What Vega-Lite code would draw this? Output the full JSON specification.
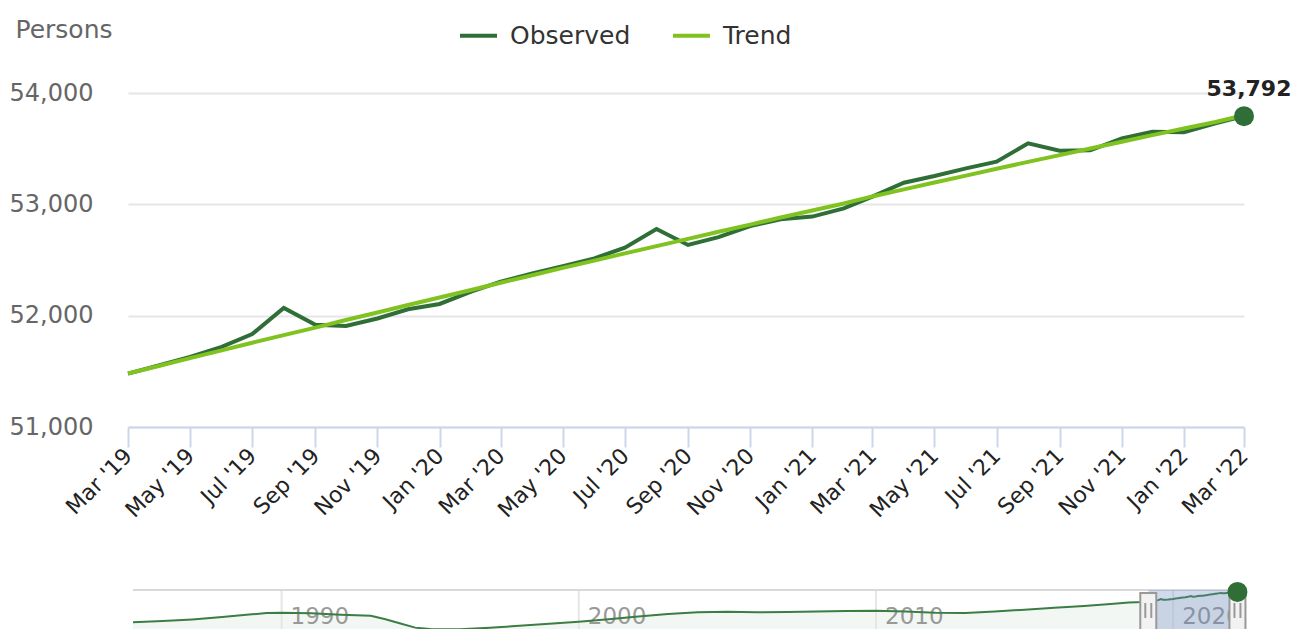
{
  "$schema": "https://vega.github.io/schema/vega-lite/v6.json",
  "width": 1116,
  "height": 334,
  "autosize": {"type": "none"},
  "padding": {"left": 128, "top": 93, "right": 52, "bottom": 202},
  "background": "white",
  "config": {"font": "DejaVu Sans", "view": {"stroke": null}},
  "datasets": {
    "obs": [
      {"date": "2019-03-01", "series": "Observed", "value": 51480},
      {"date": "2019-04-01", "series": "Observed", "value": 51555},
      {"date": "2019-05-01", "series": "Observed", "value": 51630},
      {"date": "2019-06-01", "series": "Observed", "value": 51720},
      {"date": "2019-07-01", "series": "Observed", "value": 51835},
      {"date": "2019-08-01", "series": "Observed", "value": 52070},
      {"date": "2019-09-01", "series": "Observed", "value": 51918},
      {"date": "2019-10-01", "series": "Observed", "value": 51908},
      {"date": "2019-11-01", "series": "Observed", "value": 51975},
      {"date": "2019-12-01", "series": "Observed", "value": 52057},
      {"date": "2020-01-01", "series": "Observed", "value": 52105},
      {"date": "2020-02-01", "series": "Observed", "value": 52215},
      {"date": "2020-03-01", "series": "Observed", "value": 52305},
      {"date": "2020-04-01", "series": "Observed", "value": 52380},
      {"date": "2020-05-01", "series": "Observed", "value": 52445},
      {"date": "2020-06-01", "series": "Observed", "value": 52515},
      {"date": "2020-07-01", "series": "Observed", "value": 52610},
      {"date": "2020-08-01", "series": "Observed", "value": 52778},
      {"date": "2020-09-01", "series": "Observed", "value": 52635},
      {"date": "2020-10-01", "series": "Observed", "value": 52705},
      {"date": "2020-11-01", "series": "Observed", "value": 52805},
      {"date": "2020-12-01", "series": "Observed", "value": 52866},
      {"date": "2021-01-01", "series": "Observed", "value": 52890},
      {"date": "2021-02-01", "series": "Observed", "value": 52964},
      {"date": "2021-03-01", "series": "Observed", "value": 53069},
      {"date": "2021-04-01", "series": "Observed", "value": 53194},
      {"date": "2021-05-01", "series": "Observed", "value": 53254},
      {"date": "2021-06-01", "series": "Observed", "value": 53323},
      {"date": "2021-07-01", "series": "Observed", "value": 53383},
      {"date": "2021-08-01", "series": "Observed", "value": 53548},
      {"date": "2021-09-01", "series": "Observed", "value": 53482},
      {"date": "2021-10-01", "series": "Observed", "value": 53485},
      {"date": "2021-11-01", "series": "Observed", "value": 53593},
      {"date": "2021-12-01", "series": "Observed", "value": 53653},
      {"date": "2022-01-01", "series": "Observed", "value": 53647},
      {"date": "2022-02-01", "series": "Observed", "value": 53728},
      {"date": "2022-03-01", "series": "Observed", "value": 53792},
      {"date": "2019-03-01", "series": "Trend", "value": 51480},
      {"date": "2019-04-01", "series": "Trend", "value": 51550},
      {"date": "2019-05-01", "series": "Trend", "value": 51619},
      {"date": "2019-06-01", "series": "Trend", "value": 51688},
      {"date": "2019-07-01", "series": "Trend", "value": 51757},
      {"date": "2019-08-01", "series": "Trend", "value": 51825},
      {"date": "2019-09-01", "series": "Trend", "value": 51893},
      {"date": "2019-10-01", "series": "Trend", "value": 51961},
      {"date": "2019-11-01", "series": "Trend", "value": 52029},
      {"date": "2019-12-01", "series": "Trend", "value": 52096},
      {"date": "2020-01-01", "series": "Trend", "value": 52163},
      {"date": "2020-02-01", "series": "Trend", "value": 52230},
      {"date": "2020-03-01", "series": "Trend", "value": 52296},
      {"date": "2020-04-01", "series": "Trend", "value": 52363},
      {"date": "2020-05-01", "series": "Trend", "value": 52429},
      {"date": "2020-06-01", "series": "Trend", "value": 52494},
      {"date": "2020-07-01", "series": "Trend", "value": 52560},
      {"date": "2020-08-01", "series": "Trend", "value": 52625},
      {"date": "2020-09-01", "series": "Trend", "value": 52690},
      {"date": "2020-10-01", "series": "Trend", "value": 52754},
      {"date": "2020-11-01", "series": "Trend", "value": 52818},
      {"date": "2020-12-01", "series": "Trend", "value": 52882},
      {"date": "2021-01-01", "series": "Trend", "value": 52945},
      {"date": "2021-02-01", "series": "Trend", "value": 53008},
      {"date": "2021-03-01", "series": "Trend", "value": 53071},
      {"date": "2021-04-01", "series": "Trend", "value": 53134},
      {"date": "2021-05-01", "series": "Trend", "value": 53196},
      {"date": "2021-06-01", "series": "Trend", "value": 53258},
      {"date": "2021-07-01", "series": "Trend", "value": 53320},
      {"date": "2021-08-01", "series": "Trend", "value": 53381},
      {"date": "2021-09-01", "series": "Trend", "value": 53442},
      {"date": "2021-10-01", "series": "Trend", "value": 53502},
      {"date": "2021-11-01", "series": "Trend", "value": 53562},
      {"date": "2021-12-01", "series": "Trend", "value": 53622},
      {"date": "2022-01-01", "series": "Trend", "value": 53681},
      {"date": "2022-02-01", "series": "Trend", "value": 53740},
      {"date": "2022-03-01", "series": "Trend", "value": 53800}
    ],
    "last": [{"date": "2022-03-01", "value": 53792}],
    "hist": [
      {"date": "1985-01-01", "value": 46560},
      {"date": "1986-01-01", "value": 46850},
      {"date": "1987-01-01", "value": 47250},
      {"date": "1988-01-01", "value": 47800},
      {"date": "1989-01-01", "value": 48450},
      {"date": "1989-07-01", "value": 48800},
      {"date": "1990-01-01", "value": 48850},
      {"date": "1991-01-01", "value": 48700},
      {"date": "1992-01-01", "value": 48350},
      {"date": "1993-01-01", "value": 48100},
      {"date": "1993-07-01", "value": 47300},
      {"date": "1994-01-01", "value": 46300},
      {"date": "1994-07-01", "value": 45300},
      {"date": "1995-01-01", "value": 44950},
      {"date": "1996-01-01", "value": 44900},
      {"date": "1997-01-01", "value": 45250},
      {"date": "1998-01-01", "value": 45750},
      {"date": "1999-01-01", "value": 46200},
      {"date": "2000-01-01", "value": 46700},
      {"date": "2001-01-01", "value": 47300},
      {"date": "2002-01-01", "value": 47950},
      {"date": "2003-01-01", "value": 48550},
      {"date": "2004-01-01", "value": 48950},
      {"date": "2005-01-01", "value": 49100},
      {"date": "2006-01-01", "value": 48950},
      {"date": "2007-01-01", "value": 49000},
      {"date": "2008-01-01", "value": 49150},
      {"date": "2009-01-01", "value": 49250},
      {"date": "2010-01-01", "value": 49300},
      {"date": "2011-01-01", "value": 49150},
      {"date": "2012-01-01", "value": 48850},
      {"date": "2013-01-01", "value": 48750},
      {"date": "2014-01-01", "value": 49150},
      {"date": "2015-01-01", "value": 49550},
      {"date": "2016-01-01", "value": 50000},
      {"date": "2017-01-01", "value": 50450},
      {"date": "2018-01-01", "value": 50950},
      {"date": "2018-07-01", "value": 51250},
      {"date": "2019-01-01", "value": 51400},
      {"date": "2019-03-01", "value": 51480},
      {"date": "2019-04-01", "value": 51555},
      {"date": "2019-05-01", "value": 51630},
      {"date": "2019-06-01", "value": 51720},
      {"date": "2019-07-01", "value": 51835},
      {"date": "2019-08-01", "value": 52070},
      {"date": "2019-09-01", "value": 51918},
      {"date": "2019-10-01", "value": 51908},
      {"date": "2019-11-01", "value": 51975},
      {"date": "2019-12-01", "value": 52057},
      {"date": "2020-01-01", "value": 52105},
      {"date": "2020-02-01", "value": 52215},
      {"date": "2020-03-01", "value": 52305},
      {"date": "2020-04-01", "value": 52380},
      {"date": "2020-05-01", "value": 52445},
      {"date": "2020-06-01", "value": 52515},
      {"date": "2020-07-01", "value": 52610},
      {"date": "2020-08-01", "value": 52778},
      {"date": "2020-09-01", "value": 52635},
      {"date": "2020-10-01", "value": 52705},
      {"date": "2020-11-01", "value": 52805},
      {"date": "2020-12-01", "value": 52866},
      {"date": "2021-01-01", "value": 52890},
      {"date": "2021-02-01", "value": 52964},
      {"date": "2021-03-01", "value": 53069},
      {"date": "2021-04-01", "value": 53194},
      {"date": "2021-05-01", "value": 53254},
      {"date": "2021-06-01", "value": 53323},
      {"date": "2021-07-01", "value": 53383},
      {"date": "2021-08-01", "value": 53548},
      {"date": "2021-09-01", "value": 53482},
      {"date": "2021-10-01", "value": 53485},
      {"date": "2021-11-01", "value": 53593},
      {"date": "2021-12-01", "value": 53653},
      {"date": "2022-01-01", "value": 53647},
      {"date": "2022-02-01", "value": 53728},
      {"date": "2022-03-01", "value": 53792}
    ],
    "years": [
      {"date": "1990-01-01", "label": "1990"},
      {"date": "2000-01-01", "label": "2000"},
      {"date": "2010-01-01", "label": "2010"},
      {"date": "2020-01-01", "label": "2020"}
    ],
    "frame": [{"start": "1985-01-01", "end": "2022-04-01"}],
    "range": [{"start": "2019-03-01", "end": "2022-03-01"}],
    "handles": [{"date": "2019-03-01"}, {"date": "2022-03-01"}]
  },
  "layer": [
    {
      "layer": [
        {
          "data": {"name": "obs"},
          "mark": {"type": "line", "strokeWidth": 4, "interpolate": "linear"},
          "encoding": {
            "x": {
              "field": "date", "type": "temporal",
              "scale": {"type": "utc", "nice": false, "domain": [{"year": 2019, "month": 3, "date": 1, "utc": true}, {"year": 2022, "month": 3, "date": 1, "utc": true}]},
              "axis": {
                "title": null,
                "labelExpr": "utcFormat(datum.value, \"%b '%y\")",
                "tickCount": {"interval": "month", "step": 2},
                "grid": false, "domainColor": "#ccd6eb", "domainWidth": 2,
                "tickColor": "#ccd6eb", "tickWidth": 2, "tickSize": 20,
                "labelAngle": -45, "labelAlign": "right", "labelBaseline": "middle",
                "labelPadding": 5, "labelFontSize": 22, "labelColor": "#222222",
                "labelOverlap": false, "labelBound": false, "labelFlush": false, "zindex": 1
              }
            },
            "y": {
              "field": "value", "type": "quantitative",
              "scale": {"domain": [51000, 54000], "zero": false, "nice": false},
              "axis": {
                "values": [51000, 52000, 53000, 54000],
                "labelExpr": "format(datum.value, ',')",
                "grid": true, "gridColor": "#e6e6e6", "gridWidth": 2,
                "domain": false, "ticks": false, "tickSize": 0,
                "labelPadding": 35, "labelFontSize": 24, "labelColor": "#666666",
                "title": "Persons", "titleAngle": 0, "titleAlign": "left", "titleBaseline": "alphabetic",
                "titleX": -113, "titleY": -56, "titleFontSize": 25, "titleFontWeight": "normal", "titleColor": "#666666"
              }
            },
            "color": {
              "field": "series", "type": "nominal",
              "scale": {"domain": ["Observed", "Trend"], "range": ["#2f6f37", "#80c21f"]},
              "legend": {
                "title": null, "orient": "none", "legendX": 330, "legendY": -78,
                "direction": "horizontal", "symbolType": "stroke", "symbolSize": 1369,
                "symbolStrokeWidth": 4, "labelFontSize": 25, "labelFontWeight": "normal",
                "labelColor": "#333333", "labelOffset": 11, "columnPadding": 34, "padding": 0
              }
            }
          }
        },
        {
          "data": {"name": "last"},
          "mark": {"type": "circle", "size": 400, "color": "#2f6f37", "opacity": 1},
          "encoding": {
            "x": {"field": "date", "type": "temporal"},
            "y": {"field": "value", "type": "quantitative"}
          }
        },
        {
          "data": {"name": "last"},
          "mark": {"type": "text", "dx": 5, "dy": -20, "fontSize": 22, "fontWeight": "bold", "color": "#222222", "baseline": "alphabetic", "align": "center"},
          "encoding": {
            "x": {"field": "date", "type": "temporal"},
            "y": {"field": "value", "type": "quantitative"},
            "text": {"field": "value", "type": "quantitative", "format": ","}
          }
        }
      ]
    },
    {
      "layer": [
        {
          "data": {"name": "hist"},
          "mark": {"type": "area", "color": "#2f6f37", "opacity": 0.06},
          "encoding": {
            "x": {
              "field": "date", "type": "temporal", "axis": null,
              "scale": {"type": "utc", "nice": false, "domain": [{"year": 1985, "month": 1, "date": 1, "utc": true}, {"year": 2022, "month": 3, "date": 20, "utc": true}]}
            },
            "y": {
              "field": "value", "type": "quantitative", "axis": null,
              "scale": {"domain": [44500, 54237.5], "range": [538, 497], "zero": false, "nice": false}
            },
            "y2": {"datum": 44500}
          }
        },
        {
          "data": {"name": "years"},
          "mark": {"type": "rule", "color": "#e6e6e6", "strokeWidth": 2},
          "encoding": {
            "x": {"field": "date", "type": "temporal"},
            "y": {"datum": 54237.5},
            "y2": {"datum": 44500}
          }
        },
        {
          "data": {"name": "frame"},
          "mark": {"type": "rule", "color": "#d9d9d9", "strokeWidth": 2},
          "encoding": {
            "x": {"field": "start", "type": "temporal"},
            "x2": {"field": "end"},
            "y": {"datum": 54237.5}
          }
        },
        {
          "data": {"name": "years"},
          "mark": {"type": "text", "align": "left", "dx": 9, "fontSize": 23, "color": "#999999", "baseline": "alphabetic"},
          "encoding": {
            "x": {"field": "date", "type": "temporal"},
            "y": {"datum": 46150},
            "text": {"field": "label", "type": "nominal"}
          }
        },
        {
          "data": {"name": "hist"},
          "mark": {"type": "line", "color": "#3b7d42", "strokeWidth": 2},
          "encoding": {
            "x": {"field": "date", "type": "temporal"},
            "y": {"field": "value", "type": "quantitative"}
          }
        },
        {
          "data": {"name": "range"},
          "mark": {"type": "rect", "color": "#6685c2", "opacity": 0.3},
          "encoding": {
            "x": {"field": "start", "type": "temporal"},
            "x2": {"field": "end"},
            "y": {"datum": 54237.5},
            "y2": {"datum": 44500}
          }
        },
        {
          "data": {"name": "handles"},
          "mark": {"type": "bar", "width": 16, "fill": "#f2f2f2", "stroke": "#999999", "strokeWidth": 2},
          "encoding": {
            "x": {"field": "date", "type": "temporal"},
            "y": {"datum": 53525},
            "y2": {"datum": 44500}
          }
        },
        {
          "data": {"name": "handles"},
          "mark": {"type": "rule", "color": "#999999", "strokeWidth": 2, "xOffset": -3},
          "encoding": {
            "x": {"field": "date", "type": "temporal"},
            "y": {"datum": 51150},
            "y2": {"datum": 47600}
          }
        },
        {
          "data": {"name": "handles"},
          "mark": {"type": "rule", "color": "#999999", "strokeWidth": 2, "xOffset": 3},
          "encoding": {
            "x": {"field": "date", "type": "temporal"},
            "y": {"datum": 51150},
            "y2": {"datum": 47600}
          }
        },
        {
          "data": {"name": "last"},
          "mark": {"type": "circle", "size": 400, "color": "#2f6f37", "opacity": 1},
          "encoding": {
            "x": {"field": "date", "type": "temporal"},
            "y": {"field": "value", "type": "quantitative"}
          }
        }
      ]
    }
  ],
  "resolve": {"scale": {"x": "independent", "y": "independent"}}
}
